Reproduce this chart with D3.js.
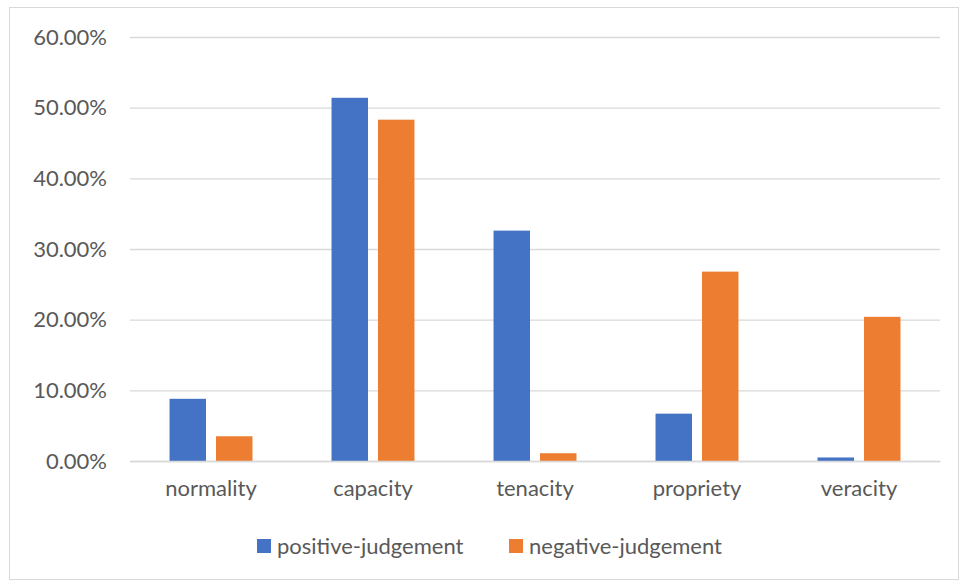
<!DOCTYPE html>
<html>
<head>
<meta charset="utf-8">
<script src="https://cdn.jsdelivr.net/npm/d3@7"></script>
<style>
  html, body { margin: 0; padding: 0; background: #fff; }
  svg text { font-family: Lato, "Open Sans", sans-serif; fill: #595959; }
</style>
</head>
<body>
<svg id="chart" width="959" height="580"></svg>
<script>
// Judgement categories and the share of each polarity (percent)
const categories = ["normality", "capacity", "tenacity", "propriety", "veracity"];
const seriesNames = ["positive-judgement", "negative-judgement"];
const positiveValues = [8.8, 51.4, 32.6, 6.7, 0.5];
const negativeValues = [3.5, 48.3, 1.1, 26.8, 20.4];
const yTicks = [0, 10, 20, 30, 40, 50, 60];
const colors = ["#4472C4", "#ED7D31"];

const svg = d3.select("#chart");
const W = 959, H = 580;
const margin = { left: 130, right: 19, top: 37, bottom: 119 };
const plotW = W - margin.left - margin.right;
const plotH = H - margin.top - margin.bottom;
const fontSize = "22px";

// Outer chart border
svg.append("rect")
  .attr("x", 9.5).attr("y", 7.5)
  .attr("width", W - 10).attr("height", H - 8)
  .attr("fill", "none").attr("stroke", "#d9d9d9").attr("stroke-width", 1);

const g = svg.append("g").attr("transform", `translate(${margin.left},${margin.top})`);

const x0 = d3.scaleBand().domain(categories).range([0, plotW]).paddingInner(0.488).paddingOuter(0.244);
const x1 = d3.scaleBand().domain(seriesNames).range([0, x0.bandwidth()]).paddingInner(0.215);
const y = d3.scaleLinear().domain([0, 60]).range([plotH, 0]);

// Horizontal gridlines
const yAxis = d3.axisLeft(y).tickValues(yTicks).tickSize(-plotW).tickPadding(23)
  .tickFormat(d => d3.format(".2f")(d) + "%");
const ya = g.append("g").call(yAxis);
ya.select(".domain").remove();
ya.selectAll(".tick line").attr("stroke", "#d9d9d9").attr("stroke-width", 1.3);
ya.selectAll(".tick text").style("font-size", fontSize).attr("fill", "#595959");

// Bars
const rows = categories.map((c, i) => ({ cat: c, vals: [positiveValues[i], negativeValues[i]] }));
const groups = g.selectAll(".grp").data(rows).join("g")
  .attr("transform", d => `translate(${x0(d.cat)},0)`);
groups.selectAll("rect").data(d => d.vals.map((v, k) => ({ v, k }))).join("rect")
  .attr("x", d => x1(seriesNames[d.k]))
  .attr("width", x1.bandwidth())
  .attr("y", d => y(d.v))
  .attr("height", d => y(0) - y(d.v))
  .attr("fill", d => colors[d.k]);

// Category axis
const xa = g.append("g").attr("transform", `translate(0,${plotH})`)
  .call(d3.axisBottom(x0).tickSize(0).tickPadding(19));
xa.select(".domain").attr("stroke", "#d9d9d9").attr("stroke-width", 1.3);
xa.selectAll(".tick text").style("font-size", fontSize).attr("fill", "#595959");

// Legend
const legendX = [257, 509];
const legend = svg.append("g");
seriesNames.forEach((name, k) => {
  legend.append("rect").attr("x", legendX[k]).attr("y", 539).attr("width", 14).attr("height", 14).attr("fill", colors[k]);
  legend.append("text").attr("x", legendX[k] + 20).attr("y", 546).attr("dy", "0.35em")
    .style("font-size", fontSize).text(name);
});
</script>
</body>
</html>
